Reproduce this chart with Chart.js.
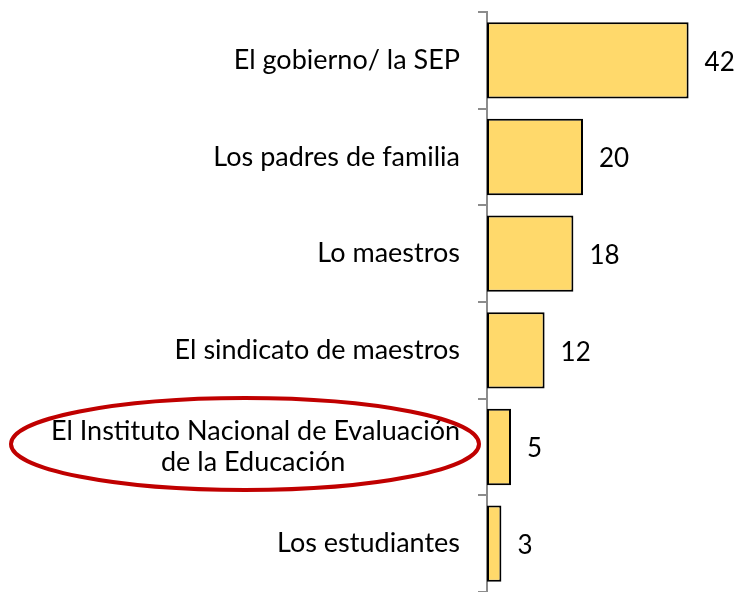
<!DOCTYPE html>
<html><head><meta charset="utf-8">
<script src="https://cdn.jsdelivr.net/npm/chart.js@4.4.1/dist/chart.umd.min.js"></script>
<style>html,body{margin:0;padding:0;background:#fff}#wrap{width:740px;height:592px}</style>
</head><body><div id="wrap"><canvas id="c"></canvas></div>
<script>
const categories = [
  "El gobierno/ la SEP",
  "Los padres de familia",
  "Lo maestros",
  "El sindicato de maestros",
  ["El Instituto Nacional de Evaluación", "de la Educación\u2003\u2003\u2003\u2003\u2003\u2002"],
  "Los estudiantes"
];
const values = [42, 20, 18, 12, 5, 3];
const highlightIndex = 4;
const FONT = "Lato, 'Open Sans', sans-serif";

const valueLabels = {
  id: 'valueLabels',
  afterDatasetsDraw(chart) {
    const ctx = chart.ctx;
    const meta = chart.getDatasetMeta(0);
    ctx.save();
    ctx.font = "26px " + FONT;
    ctx.fillStyle = "#000";
    ctx.textAlign = "left";
    ctx.textBaseline = "middle";
    meta.data.forEach((bar, i) => {
      ctx.fillText(String(values[i]), bar.x + 16, bar.y + 2);
    });
    ctx.restore();
  }
};
const ellipse = {
  id: 'ellipse',
  afterDraw(chart) {
    const y = chart.scales.y.getPixelForValue(highlightIndex);
    const ctx = chart.ctx;
    ctx.save();
    ctx.strokeStyle = "#C00000";
    ctx.lineWidth = 4;
    ctx.beginPath();
    ctx.ellipse(245, y - 3, 234, 46, 0, 0, Math.PI * 2);
    ctx.stroke();
    ctx.restore();
  }
};

new Chart(document.getElementById('c'), {
  type: 'bar',
  data: {
    labels: categories,
    datasets: [{
      data: values,
      backgroundColor: "#FFD96B",
      borderColor: "#000",
      borderWidth: 2,
      borderSkipped: false,
      categoryPercentage: 1,
      barPercentage: 0.79
    }]
  },
  options: {
    indexAxis: 'y',
    responsive: true,
    maintainAspectRatio: false,
    animation: false,
    layout: { padding: { top: 12, right: 13, bottom: -2, left: 0 } },
    plugins: { legend: { display: false }, tooltip: { enabled: false } },
    scales: {
      x: { display: false, min: 0, max: 50 },
      y: {
        offset: true,
        border: { display: true, color: "#8c8c8c", width: 2 },
        grid: { display: true, drawOnChartArea: false, drawTicks: true, tickLength: 9, color: "#8c8c8c", lineWidth: 2, offset: true },
        ticks: { color: "#000", font: { family: FONT, size: 27, lineHeight: 1.17 }, padding: 18, crossAlign: 'near' },
        afterFit(scale) { scale.width = 487; scale.paddingTop = 0; scale.paddingBottom = 0; }
      }
    }
  },
  plugins: [valueLabels, ellipse]
});
</script>
</body></html>
